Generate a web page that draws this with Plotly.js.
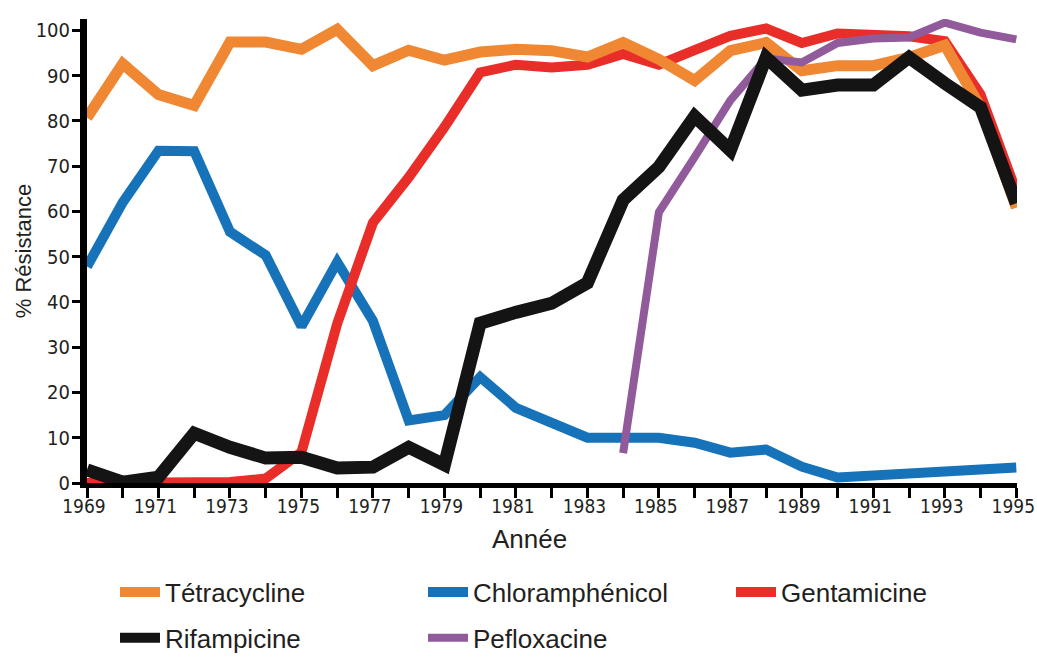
<!DOCTYPE html>
<html>
<head>
<meta charset="utf-8">
<script src="https://cdn.plot.ly/plotly-3.0.1.min.js"></script>
<style>html,body{margin:0;padding:0;background:#fff;}#chart{width:1037px;height:657px;}</style>
</head>
<body>
<div id="chart"></div>
<script>
var years = [1969,1970,1971,1972,1973,1974,1975,1976,1977,1978,1979,1980,1981,1982,1983,1984,1985,1986,1987,1988,1989,1990,1991,1992,1993,1994,1995];
var tickLabels = ['1969','','1971','','1973','','1975','','1977','','1979','','1981','','1983','','1985','','1987','','1989','','1991','','1993','','1995'];

var tetracycline = [80.7,92.6,85.8,83.4,97.4,97.4,95.8,100.2,92.2,95.6,93.4,95.2,95.8,95.5,94.1,97.3,93.6,88.9,95.5,97.3,91.1,92.2,92.2,94,96.7,83,60.8];
var chloramphenicol = [47.8,62,73.4,73.3,55.5,50.3,34.6,48.8,35.8,13.8,15,23.4,16.6,13.4,10,10,10,8.9,6.7,7.4,3.6,1.2,1.6,1.8,2.5,2.8,3.4];
var gentamicine = [0,0,0,0,0.2,1,6.8,35.2,57.5,67.5,78.6,90.7,92.4,91.8,92.4,94.8,92.4,95.6,98.8,100.4,97.2,99.3,99,98.7,97.6,85.8,64.4];
var rifampicine = [2.9,0.2,1.3,11,7.9,5.5,5.7,3.3,3.5,7.9,4,35.3,37.7,39.7,44.2,62.5,69.8,81,73.5,94,86.8,87.9,87.9,94,88.3,83,61.8];
var pefloxacine = [null,null,null,null,null,null,null,null,null,null,null,null,null,null,null,6.6,59.8,72,84.5,93.8,92.9,97.2,98.2,98.4,101.7,99.5,98];

var names = ['Tétracycline','Chloramphénicol','Gentamicine','Rifampicine','Pefloxacine'];
var colors = {t:'#F08732', c:'#1773B9', g:'#E92D28', r:'#141414', p:'#915A9B'};

var tickFontFamily = "'Liberation Sans Narrow','DejaVu Sans Condensed','Liberation Sans',sans-serif";
var textFont = "'Liberation Sans',Arial,sans-serif";

var traces = [
  {x:years, y:chloramphenicol, name:names[1], type:'scatter', mode:'lines', line:{color:colors.c, width:10}, legend:'legend', legendrank:2},
  {x:years, y:gentamicine, name:names[2], type:'scatter', mode:'lines', line:{color:colors.g, width:10}, legend:'legend', legendrank:3},
  {x:years, y:tetracycline, name:names[0], type:'scatter', mode:'lines', line:{color:colors.t, width:11}, legend:'legend', legendrank:1},
  {x:years, y:pefloxacine, name:names[4], type:'scatter', mode:'lines', line:{color:colors.p, width:8}, legend:'legend2', legendrank:2},
  {x:years, y:rifampicine, name:names[3], type:'scatter', mode:'lines', line:{color:colors.r, width:13}, legend:'legend2', legendrank:1}
];

var legendCommon = {
  orientation:'h', xref:'container', yref:'container', xanchor:'left', yanchor:'middle',
  font:{family:textFont, size:26, color:'#231f20'},
  entrywidth:253, entrywidthmode:'pixels', itemwidth:40,
  bgcolor:'rgba(0,0,0,0)', borderwidth:0
};

var layout = {
  width:1037, height:657,
  margin:{l:87, r:20, t:19, b:174, autoexpand:false},
  paper_bgcolor:'#fff', plot_bgcolor:'#fff',
  showlegend:true,
  xaxis:{
    range:[1969,1995.02], tickvals:years, ticktext:tickLabels,
    ticks:'outside', ticklen:10, tickwidth:3, tickcolor:'#000', ticklabelstandoff:-8, ticklabelshift:-3,
    showline:true, linewidth:5, linecolor:'#000', ticklabeloverflow:'allow',
    showgrid:false, zeroline:false, tickfont:{family:tickFontFamily, size:19, color:'#231f20'}, tickangle:0
  },
  yaxis:{
    range:[0,102.5], tickvals:[0,10,20,30,40,50,60,70,80,90,100],
    ticks:'outside', ticklen:8, tickwidth:3, tickcolor:'#000', ticklabelstandoff:-2,
    showline:true, linewidth:7, linecolor:'#000',
    showgrid:false, zeroline:false, tickfont:{family:tickFontFamily, size:20, color:'#231f20'},
    title:{text:'% Résistance', font:{family:textFont, size:22, color:'#231f20'}, standoff:0}
  },
  legend:Object.assign({x:0.1109, y:0.0989}, legendCommon),
  legend2:Object.assign({x:0.1109, y:0.029}, legendCommon),
  annotations:[
    {text:'Année', xref:'paper', yref:'paper', x:0.476, y:-0.12, xanchor:'center', yanchor:'middle', showarrow:false,
     font:{family:textFont, size:26, color:'#231f20'}}
  ]
};

Plotly.newPlot('chart', traces, layout, {displayModeBar:false, staticPlot:true});
</script>
</body>
</html>
